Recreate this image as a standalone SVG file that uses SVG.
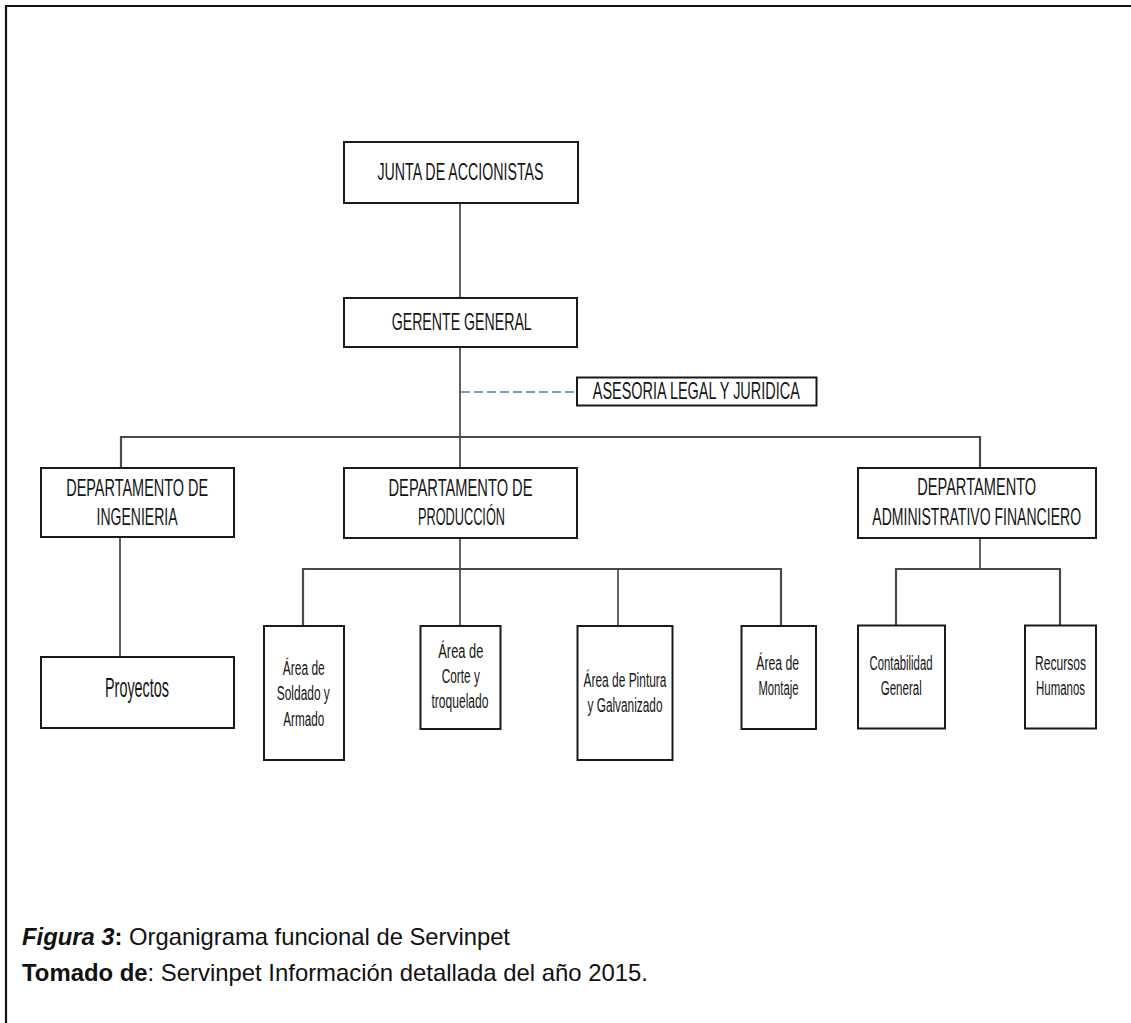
<svg xmlns="http://www.w3.org/2000/svg" width="1131" height="1023" viewBox="0 0 1131 1023">
  <style>
    .box { fill: #ffffff; stroke: #1a1a1a; stroke-width: 2; }
    .link { fill: none; stroke: #3a3a3a; stroke-width: 1.6; }
    .bar { fill: none; stroke: #4a4a4a; stroke-width: 2.2; }
    .dash { fill: none; stroke: #7b9bd0; stroke-width: 2; stroke-dasharray: 9 4; }
    .lbl { font-family: "Liberation Sans", Arial, sans-serif; fill: #151515; text-anchor: middle; }
    .big { font-size: 24px; }
    .small { font-size: 20px; }
    .cap { font-family: "Liberation Sans", Arial, sans-serif; font-size: 24px; fill: #111111; }
    .b { font-weight: bold; }
    .bi { font-weight: bold; font-style: italic; }
  </style>

  <!-- page frame (top and left edges only) -->
  <path d="M6 1023 V6 H1131" fill="none" stroke="#111" stroke-width="2.2"/>

  <!-- connectors -->
  <g id="connectors">
    <line class="link" x1="460" y1="203" x2="460" y2="298"/>
    <line class="link" x1="460" y1="347" x2="460" y2="468"/>
    <line class="dash" x1="461" y1="392" x2="577" y2="392"/>
    <path class="bar" d="M121 468 V437 H980 V468"/>
    <line class="link" x1="120" y1="537" x2="120" y2="657"/>
    <line class="link" x1="460" y1="538" x2="460" y2="626"/>
    <path class="bar" d="M303 626 V569 H781 V626"/>
    <line class="link" x1="618" y1="569" x2="618" y2="626"/>
    <line class="link" x1="980" y1="538" x2="980" y2="569"/>
    <path class="bar" d="M896 626 V569 H1060 V626"/>
  </g>

  <g id="junta">
    <rect class="box" x="344" y="142" width="234" height="61"/>
    <text class="lbl big" x="460.5" y="180" textLength="166" lengthAdjust="spacingAndGlyphs">JUNTA DE ACCIONISTAS</text>
  </g>

  <g id="gerente">
    <rect class="box" x="344" y="298" width="233" height="49"/>
    <text class="lbl big" x="461.7" y="330" textLength="140" lengthAdjust="spacingAndGlyphs">GERENTE GENERAL</text>
  </g>

  <g id="asesoria">
    <rect class="box" x="577" y="377.5" width="239.5" height="28"/>
    <text class="lbl big" x="696.3" y="399" textLength="207" lengthAdjust="spacingAndGlyphs">ASESORIA LEGAL Y JURIDICA</text>
  </g>

  <g id="dep-ingenieria">
    <rect class="box" x="41" y="468" width="193" height="69"/>
    <text class="lbl big" x="137.2" y="496" textLength="142" lengthAdjust="spacingAndGlyphs">DEPARTAMENTO DE</text>
    <text class="lbl big" x="137" y="525" textLength="81" lengthAdjust="spacingAndGlyphs">INGENIERIA</text>
  </g>

  <g id="dep-produccion">
    <rect class="box" x="344" y="468" width="233" height="70"/>
    <text class="lbl big" x="460.5" y="496" textLength="144" lengthAdjust="spacingAndGlyphs">DEPARTAMENTO DE</text>
    <text class="lbl big" x="461.5" y="525" textLength="87" lengthAdjust="spacingAndGlyphs">PRODUCCIÓN</text>
  </g>

  <g id="dep-administrativo">
    <rect class="box" x="858" y="468" width="238" height="70"/>
    <text class="lbl big" x="976.7" y="495" textLength="119" lengthAdjust="spacingAndGlyphs">DEPARTAMENTO</text>
    <text class="lbl big" transform="translate(976.7 525) scale(0.585 1)" x="0" y="0">ADMINISTRATIVO FINANCIERO</text>
  </g>

  <g id="proyectos">
    <rect class="box" x="41" y="657" width="193" height="71"/>
    <text class="lbl" style="font-size:27px" x="137" y="697" textLength="64" lengthAdjust="spacingAndGlyphs">Proyectos</text>
  </g>

  <g id="area-soldado">
    <rect class="box" x="264" y="626" width="80" height="134"/>
    <text class="lbl small" x="303.8" y="675" textLength="42" lengthAdjust="spacingAndGlyphs">Área de</text>
    <text class="lbl small" x="303.3" y="700" textLength="53" lengthAdjust="spacingAndGlyphs">Soldado y</text>
    <text class="lbl small" x="303.7" y="726" textLength="41" lengthAdjust="spacingAndGlyphs">Armado</text>
  </g>

  <g id="area-corte">
    <rect class="box" x="420.5" y="626" width="80" height="103"/>
    <text class="lbl small" x="460.8" y="658" textLength="45" lengthAdjust="spacingAndGlyphs">Área de</text>
    <text class="lbl small" x="460.8" y="683" textLength="38" lengthAdjust="spacingAndGlyphs">Corte y</text>
    <text class="lbl small" x="460" y="708" textLength="57" lengthAdjust="spacingAndGlyphs">troquelado</text>
  </g>

  <g id="area-pintura">
    <rect class="box" x="577.5" y="626" width="95" height="134"/>
    <text class="lbl small" x="625" y="687" textLength="83" lengthAdjust="spacingAndGlyphs">Área de Pintura</text>
    <text class="lbl small" x="625" y="712" textLength="75" lengthAdjust="spacingAndGlyphs">y Galvanizado</text>
  </g>

  <g id="area-montaje">
    <rect class="box" x="741.5" y="626" width="74.5" height="103"/>
    <text class="lbl small" x="777.7" y="670" textLength="43" lengthAdjust="spacingAndGlyphs">Área de</text>
    <text class="lbl small" x="778.5" y="695" textLength="40" lengthAdjust="spacingAndGlyphs">Montaje</text>
  </g>

  <g id="contabilidad">
    <rect class="box" x="858" y="625.5" width="87" height="103"/>
    <text class="lbl small" x="901" y="670" textLength="63" lengthAdjust="spacingAndGlyphs">Contabilidad</text>
    <text class="lbl small" x="901.2" y="695" textLength="41" lengthAdjust="spacingAndGlyphs">General</text>
  </g>

  <g id="recursos-humanos">
    <rect class="box" x="1025" y="625.5" width="71" height="103"/>
    <text class="lbl small" x="1060.5" y="670" textLength="51" lengthAdjust="spacingAndGlyphs">Recursos</text>
    <text class="lbl small" x="1060.5" y="695" textLength="49" lengthAdjust="spacingAndGlyphs">Humanos</text>
  </g>

  <!-- caption -->
  <g id="caption">
    <text class="cap" x="22" y="945" textLength="488" lengthAdjust="spacingAndGlyphs"><tspan class="bi">Figura 3</tspan><tspan class="b">:</tspan> Organigrama funcional de Servinpet</text>
    <text class="cap" x="22" y="981" textLength="626" lengthAdjust="spacingAndGlyphs"><tspan class="b">Tomado de</tspan>: Servinpet Información detallada del año 2015.</text>
  </g>
</svg>
